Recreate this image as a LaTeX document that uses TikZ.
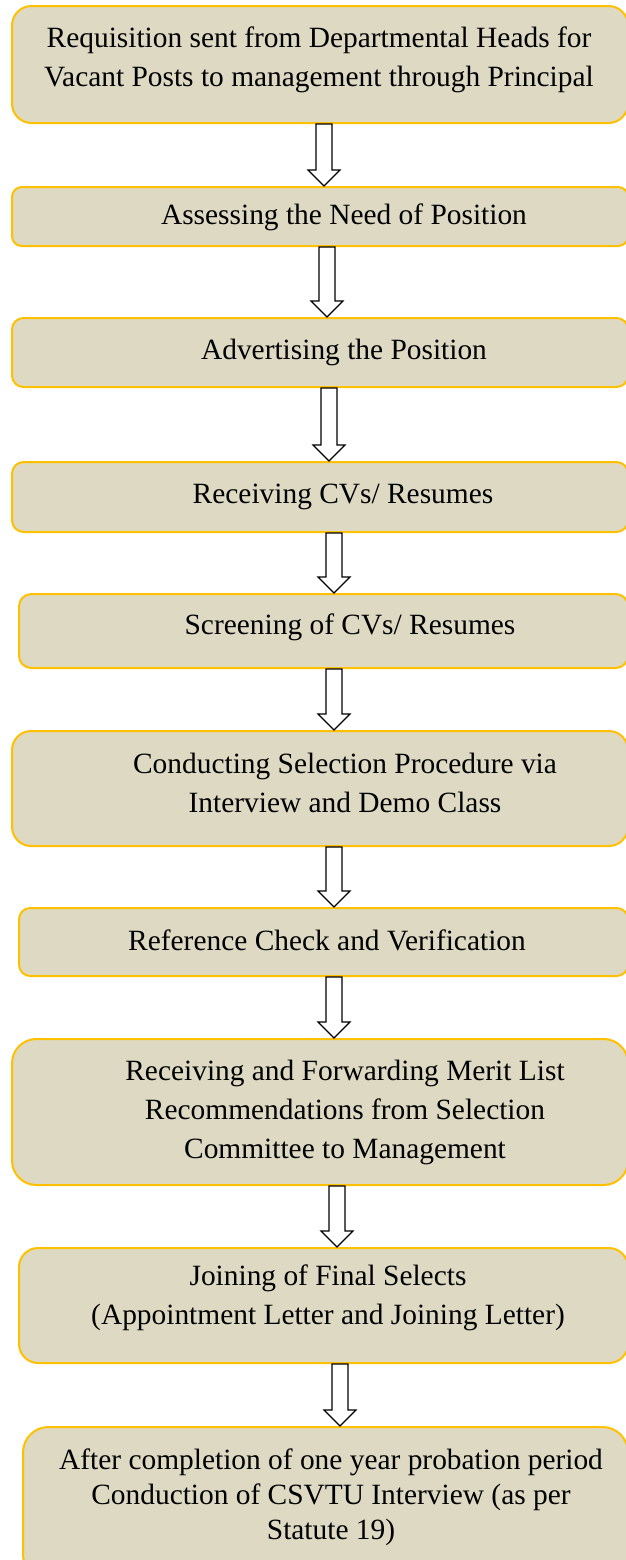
\documentclass[tikz,border=0pt]{standalone}
\usepackage{fontspec}
\setmainfont{Liberation Serif}
\usetikzlibrary{calc,fit}

\definecolor{boxtan}{HTML}{DDD9C3}
\definecolor{boxgold}{HTML}{FFC000}

\tikzset{
  stepbox/.style={draw=boxgold, line width=1pt, fill=boxtan, inner sep=0pt},
  steptext/.style={align=center, inner sep=0pt, font=\fontsize{14.7}{19.5}\selectfont},
  hollowarrow/.style={draw=black, line width=0.6pt, fill=white, line join=miter},
}

% box from (left,top) to the right edge, bottom; corner radius 1/6 of the height
\newcommand{\flowbox}[4]{%
  \pgfmathsetmacro{\boxrad}{(#4-#3)/12}
  \node[stepbox, rounded corners=\boxrad pt, fit={(#2,#3) (628,#4)}] (#1) {};}

% hollow block arrow at x = #1 from node #2 down to node #3
\newcommand{\flowarrow}[3]{%
  \draw[hollowarrow] ($(#1,0 |- #2.south)+(-8,0)$) -- ($(#1,0 |- #2.south)+(8,0)$)
    -- ($(#1,0 |- #3.north)+(8,-16)$) -- ($(#1,0 |- #3.north)+(16,-16)$)
    -- (#1,0 |- #3.north) -- ($(#1,0 |- #3.north)+(-16,-16)$)
    -- ($(#1,0 |- #3.north)+(-8,-16)$) -- cycle;}

\begin{document}
\begin{tikzpicture}[x=0.5pt, y=-0.5pt]
  \clip (0,0) rectangle (626,1560);

  \flowbox{b1}{12}{6}{123}
  \flowbox{b2}{12}{187}{246}
  \flowbox{b3}{12}{318}{387}
  \flowbox{b4}{12}{462}{532}
  \flowbox{b5}{19}{594}{668}
  \flowbox{b6}{12}{731}{846}
  \flowbox{b7}{19}{908}{976}
  \flowbox{b8}{12}{1039}{1185}
  \flowbox{b9}{19}{1248}{1363}
  \flowbox{b10}{23}{1427}{1580}

  \node[steptext] (t1) at (319,60) {Requisition sent from Departmental Heads for\\Vacant Posts to management through Principal};
  \node[steptext] (t2) at (344,217) {Assessing the Need of Position};
  \node[steptext] (t3) at (344,352) {Advertising the Position};
  \node[steptext] (t4) at (343,497) {Receiving CVs/ Resumes};
  \node[steptext] (t5) at (350,627) {Screening of CVs/ Resumes};
  \node[steptext] (t6) at (345,783) {Conducting Selection Procedure via\\Interview and Demo Class};
  \node[steptext] (t7) at (327,940) {Reference Check and Verification};
  \node[steptext] (t8) at (345,1112) {Receiving and Forwarding Merit List\\Recommendations from Selection\\Committee to Management};
  \node[steptext] (t9) at (328,1298) {Joining of Final Selects\\(Appointment Letter and Joining Letter)};
  \node[steptext, font=\fontsize{14.7}{17.5}\selectfont] (t10) at (331,1497) {After completion of one year probation period\\Conduction of CSVTU Interview (as per\\Statute 19)};

  \flowarrow{324}{b1}{b2}
  \flowarrow{327}{b2}{b3}
  \flowarrow{329}{b3}{b4}
  \flowarrow{334}{b4}{b5}
  \flowarrow{334}{b5}{b6}
  \flowarrow{334}{b6}{b7}
  \flowarrow{334}{b7}{b8}
  \flowarrow{337}{b8}{b9}
  \flowarrow{340}{b9}{b10}
\end{tikzpicture}
\end{document}
